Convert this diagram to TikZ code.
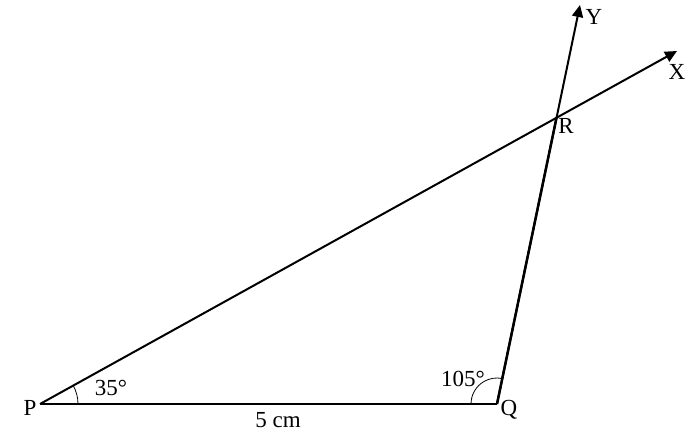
\documentclass[tikz,border=0pt]{standalone}
\usepackage{fontspec}
\setmainfont{Liberation Serif}
\usetikzlibrary{arrows.meta,calc}
\begin{document}
\begin{tikzpicture}[x=1pt,y=1pt,
  ln/.style={line width=2pt},
  arr/.style={ln,-{Triangle[length=12pt,width=11pt]}},
  arc/.style={line width=0.8pt},
  lbl/.style={font=\fontsize{23}{23}\selectfont,inner sep=0pt}]
\useasboundingbox (0,0) rectangle (699,441);
\coordinate (P) at (40,37);
\coordinate (Q) at (497,37);
\coordinate (X) at (677,390);
\coordinate (Y) at (580,436);
\coordinate (R) at (intersection of P--X and Q--Y);
\draw[ln] (P) -- (Q);
\draw[arr] (P) -- (X);
\draw[arr] (Q) -- (Y);
\draw[line width=2.5pt] (Q) -- (R);
\draw[arc] ($(P)+(38,0)$) arc[start angle=0,end angle=29,radius=38pt];
\draw[arc] ($(Q)+(-26,0)$) arc[start angle=180,end angle=78,radius=26pt];
\node[lbl] (lp) at (30,33) {P};
\node[lbl] (lq) at (509,31) {Q};
\node[lbl] (lr) at (566,315) {R};
\node[lbl] (lx) at (677,369) {X};
\node[lbl] (ly) at (594,424) {Y};
\node[lbl] (a1) at (111,53) {35°};
\node[lbl] (a2) at (463,62) {105°};
\node[lbl] (d) at (278,21) {5 cm};
\end{tikzpicture}
\end{document}
